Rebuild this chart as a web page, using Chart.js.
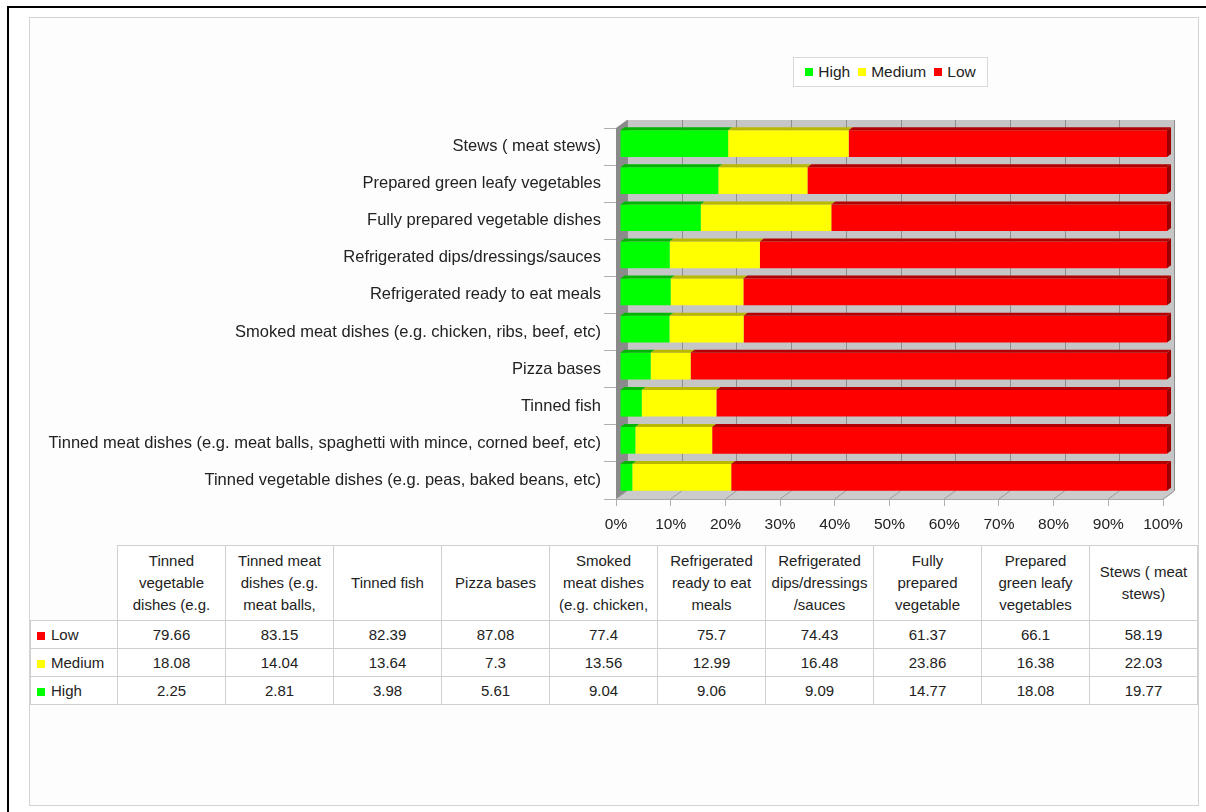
<!DOCTYPE html>
<html>
<head>
<meta charset="utf-8">
<script src="https://cdn.jsdelivr.net/npm/chart.js@4/dist/chart.umd.min.js"></script>
<style>
    html, body { margin: 0; padding: 0; background: #fff; }
    body { width: 1206px; height: 812px; position: relative; overflow: hidden;
           font-family: "Liberation Sans", Arial, sans-serif; color: #222; }
    .frame { position: absolute; left: 7px; top: 6px; width: 1230px; height: 840px;
             border-left: 2px solid #000; border-top: 2px solid #000; }
    .panel { position: absolute; left: 29px; top: 17px; width: 1168px; height: 787px;
             border: 1px solid #d4d4d4; background: #fdfdfd; }
    .chart-box { position: absolute; left: 30px; top: 100px; width: 1168px; height: 440px; }
    .legend { position: absolute; left: 793px; top: 57px; width: 193px; height: 28px;
              border: 1px solid #d8d8d8; background: #fff; display: flex; align-items: center;
              justify-content: center; font-size: 15.5px; }
    .legend span.item { display: inline-flex; align-items: center; margin: 0 4px; }
    .sw { display: inline-block; width: 8px; height: 8px; margin-right: 5px; }
    table.data { position: absolute; left: 30px; top: 545px; width: 1168px; border-collapse: collapse;
                 table-layout: fixed; font-size: 15px; background: #fff; }
    table.data td, table.data th { border: 1px solid #d0d0d0; text-align: center; padding: 0 2px;
                                   font-weight: normal; }
    table.data th { height: 74px; line-height: 22px; }
    table.data td { height: 27px; }
    table.data th.corner { border-top: none; border-left: none; background: #fdfdfd; }
    table.data td.rowhead { text-align: left; padding-left: 6px; }
</style>
</head>
<body>
<div class="frame"></div>
<div class="panel"></div>
<div class="legend" id="legend"></div>
<div class="chart-box"><canvas id="foodChart" width="1168" height="440"></canvas></div>
<table class="data" id="dataTable"></table>

<script>
// categories, in the table's order (left to right); the chart shows them bottom to top
const categories = [
    'Tinned vegetable dishes (e.g. peas, baked beans, etc)',
    'Tinned meat dishes (e.g. meat balls, spaghetti with mince, corned beef, etc)',
    'Tinned fish',
    'Pizza bases',
    'Smoked meat dishes (e.g. chicken, ribs, beef, etc)',
    'Refrigerated ready to eat meals',
    'Refrigerated dips/dressings/sauces',
    'Fully prepared vegetable dishes',
    'Prepared green leafy vegetables',
    'Stews ( meat stews)'
];

// column headings as they are cut off in the table
const tableHeaders = [
    ['Tinned', 'vegetable', 'dishes (e.g.'],
    ['Tinned meat', 'dishes (e.g.', 'meat balls,'],
    ['Tinned fish'],
    ['Pizza bases'],
    ['Smoked', 'meat dishes', '(e.g. chicken,'],
    ['Refrigerated', 'ready to eat', 'meals'],
    ['Refrigerated', 'dips/dressings', '/sauces'],
    ['Fully', 'prepared', 'vegetable'],
    ['Prepared', 'green leafy', 'vegetables'],
    ['Stews ( meat', 'stews)']
];

const lowValues = [79.66, 83.15, 82.39, 87.08, 77.4, 75.7, 74.43, 61.37, 66.1, 58.19];
const mediumValues = [18.08, 14.04, 13.64, 7.3, 13.56, 12.99, 16.48, 23.86, 16.38, 22.03];
const highValues = [2.25, 2.81, 3.98, 5.61, 9.04, 9.06, 9.09, 14.77, 18.08, 19.77];

const xTicks = [0, 10, 20, 30, 40, 50, 60, 70, 80, 90, 100];

const seriesNames = ['High', 'Medium', 'Low'];
const seriesColors = ['#00ff00', '#ffff00', '#ff0000'];
const seriesTops = ['#00b400', '#b8b800', '#b00000'];

// 100% stacked: each bar is shown as share of its own total
const totals = categories.map(function (c, i) { return lowValues[i] + mediumValues[i] + highValues[i]; });
function share(values) {
    return values.map(function (v, i) { return v / totals[i] * 100; });
}

// depth of the fake 3D box
const DX = 11, DY = 8;

// legend (html)
const legendEl = document.getElementById('legend');
seriesNames.forEach(function (name, i) {
    legendEl.innerHTML += '<span class="item"><span class="sw" style="background:' + seriesColors[i] + '"></span>' + name + '</span>';
});

// table below the chart
const tableEl = document.getElementById('dataTable');
let html = '<colgroup><col style="width:87px">';
categories.forEach(function () { html += '<col>'; });
html += '</colgroup><tr><th class="corner"></th>';
tableHeaders.forEach(function (lines) { html += '<th>' + lines.join('<br>') + '</th>'; });
html += '</tr>';
const tableRows = [['Low', lowValues, '#ff0000'], ['Medium', mediumValues, '#ffff00'], ['High', highValues, '#00ff00']];
tableRows.forEach(function (row) {
    html += '<tr><td class="rowhead"><span class="sw" style="background:' + row[2] + ';margin-right:6px"></span>' + row[0] + '</td>';
    row[1].forEach(function (v) { html += '<td>' + v + '</td>'; });
    html += '</tr>';
});
tableEl.innerHTML = html;

// walls, floor and bar faces
const box3d = {
    id: 'box3d',
    beforeDatasetsDraw(chart) {
        const ctx = chart.ctx;
        const a = chart.chartArea;
        const xs = chart.scales.x;
        ctx.save();
        // back wall
        ctx.fillStyle = '#c6c6c6';
        ctx.fillRect(a.left + DX, a.top - DY, a.right - a.left, a.bottom - a.top);
        ctx.strokeStyle = '#8e8e8e';
        ctx.lineWidth = 1;
        xTicks.forEach(function (v) {
            const x = Math.round(xs.getPixelForValue(v) + DX) + 0.5;
            ctx.beginPath();
            ctx.moveTo(x, a.top - DY);
            ctx.lineTo(x, a.bottom - DY);
            ctx.stroke();
        });
        // left wall
        ctx.fillStyle = '#8a8a8a';
        ctx.beginPath();
        ctx.moveTo(a.left, a.top);
        ctx.lineTo(a.left + DX, a.top - DY);
        ctx.lineTo(a.left + DX, a.bottom - DY);
        ctx.lineTo(a.left, a.bottom);
        ctx.closePath();
        ctx.fill();
        // floor
        ctx.fillStyle = '#cbcbcb';
        ctx.beginPath();
        ctx.moveTo(a.left, a.bottom);
        ctx.lineTo(a.right, a.bottom);
        ctx.lineTo(a.right + DX, a.bottom - DY);
        ctx.lineTo(a.left + DX, a.bottom - DY);
        ctx.closePath();
        ctx.fill();
        ctx.strokeStyle = '#9a9a9a';
        xTicks.forEach(function (v) {
            const x = xs.getPixelForValue(v);
            ctx.beginPath();
            ctx.moveTo(x, a.bottom);
            ctx.lineTo(x + DX, a.bottom - DY);
            ctx.stroke();
        });
        ctx.strokeStyle = '#a8a8a8';
        ctx.beginPath();
        ctx.moveTo(a.left, a.bottom + 0.5);
        ctx.lineTo(a.right, a.bottom + 0.5);
        ctx.lineTo(a.right + DX, a.bottom - DY + 0.5);
        ctx.stroke();
        ctx.restore();
        // bars sit half way into the box
        ctx.save();
        ctx.translate(4, -3);
    },
    afterDatasetsDraw(chart) {
        const ctx = chart.ctx;
        const n = chart.data.datasets.length;
        chart.data.datasets.forEach(function (ds, di) {
            const meta = chart.getDatasetMeta(di);
            meta.data.forEach(function (bar) {
                const p = bar.getProps(['x', 'y', 'base', 'height'], true);
                const top = p.y - p.height / 2;
                ctx.fillStyle = seriesTops[di];
                ctx.beginPath();
                ctx.moveTo(p.base, top);
                ctx.lineTo(p.x, top);
                ctx.lineTo(p.x + 4, top - 3);
                ctx.lineTo(p.base + 4, top - 3);
                ctx.closePath();
                ctx.fill();
                if (di === n - 1) {
                    ctx.fillStyle = '#9a0000';
                    ctx.beginPath();
                    ctx.moveTo(p.x, top);
                    ctx.lineTo(p.x + 4, top - 3);
                    ctx.lineTo(p.x + 4, top + p.height - 3);
                    ctx.lineTo(p.x, top + p.height);
                    ctx.closePath();
                    ctx.fill();
                }
            });
        });
        ctx.restore();
    }
};

const ctx = document.getElementById('foodChart').getContext('2d');
new Chart(ctx, {
    type: 'bar',
    data: {
        labels: categories,
        datasets: [
            { label: seriesNames[0], data: share(highValues), backgroundColor: seriesColors[0] },
            { label: seriesNames[1], data: share(mediumValues), backgroundColor: seriesColors[1] },
            { label: seriesNames[2], data: share(lowValues), backgroundColor: seriesColors[2] }
        ]
    },
    plugins: [box3d],
    options: {
        indexAxis: 'y',
        responsive: false,
        animation: false,
        barPercentage: 0.72,
        categoryPercentage: 1,
        layout: { padding: { top: 28, right: 35, left: 0, bottom: 0 } },
        plugins: {
            legend: { display: false },
            tooltip: { enabled: false }
        },
        scales: {
            x: {
                stacked: true,
                min: 0,
                max: 100,
                afterFit: function (scale) { scale.height = 41; },
                afterBuildTicks: function (scale) {
                    scale.ticks = xTicks.map(function (v) { return { value: v }; });
                },
                ticks: {
                    padding: 9,
                    color: '#222',
                    font: { family: '"Liberation Sans", Arial, sans-serif', size: 15.5 },
                    callback: function (v) { return v + '%'; }
                },
                grid: { drawOnChartArea: false, tickLength: 7, color: '#b0b0b0' },
                border: { display: false }
            },
            y: {
                stacked: true,
                reverse: true,
                afterFit: function (scale) { scale.width = 586; },
                ticks: {
                    padding: 3,
                    color: '#222',
                    font: { family: '"Liberation Sans", Arial, sans-serif', size: 16.5 }
                },
                grid: { drawOnChartArea: false, tickLength: 12, color: '#b0b0b0', offset: true },
                border: { display: false }
            }
        }
    }
});
</script>
</body>
</html>
